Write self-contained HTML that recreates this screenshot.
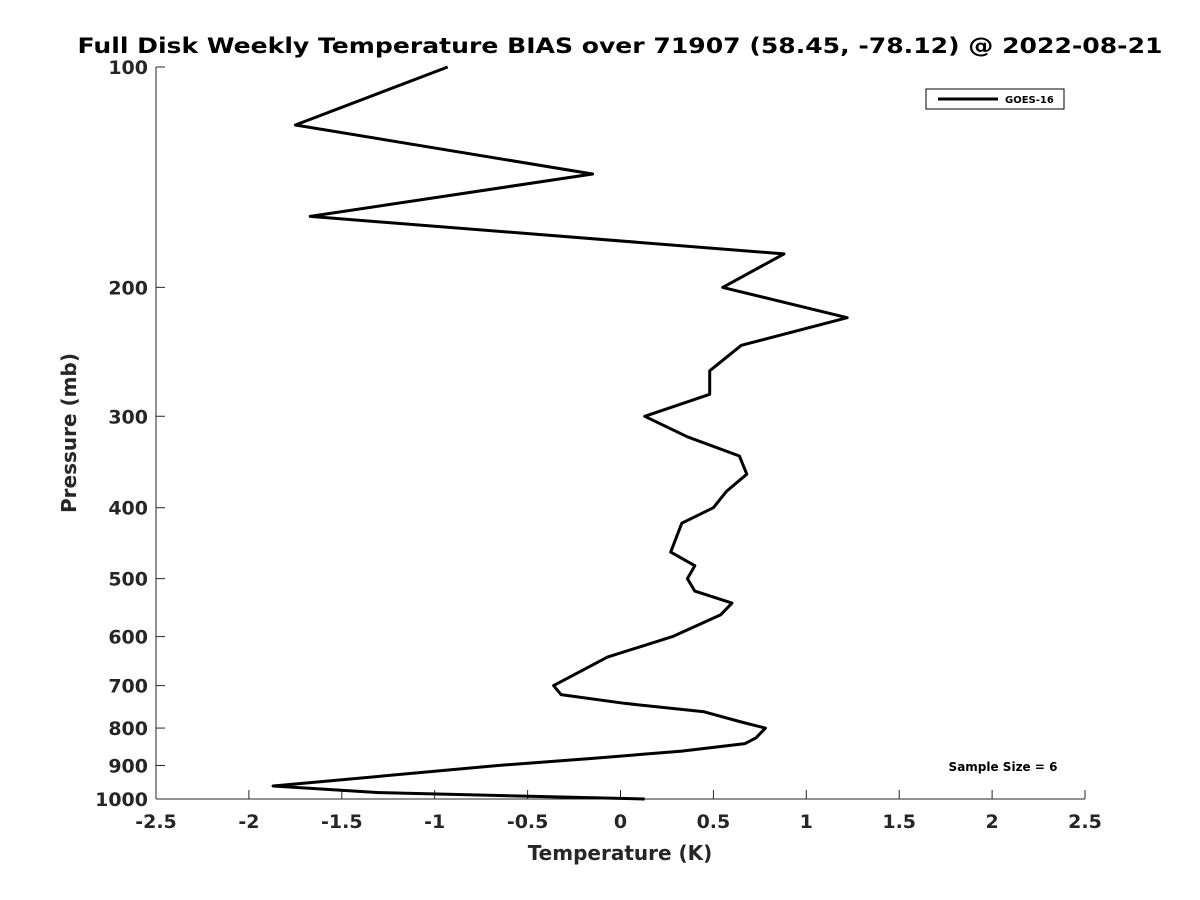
<!DOCTYPE html>
<html><head><meta charset="utf-8"><style>
body{margin:0;background:#fff;}
svg{display:block;font-family:"DejaVu Sans","Liberation Sans",sans-serif;}
</style></head><body>
<svg id="chart" width="1200" height="900" viewBox="0 0 1200 900">
<rect width="1200" height="900" fill="#fff"/>
<text x="620" y="53" text-anchor="middle" font-size="21" font-weight="bold" fill="#000" textLength="1085" lengthAdjust="spacingAndGlyphs">Full Disk Weekly Temperature BIAS over 71907 (58.45, -78.12) @ 2022-08-21</text>
<g id="axes"></g>
<text x="620" y="860" text-anchor="middle" font-size="20" font-weight="bold" fill="#262626">Temperature (K)</text>
<text transform="translate(76,433) rotate(-90)" text-anchor="middle" font-size="20" font-weight="bold" fill="#262626">Pressure (mb)</text>
<path id="line" fill="none" stroke="#000" stroke-width="3" stroke-linejoin="round"/>
<g>
<rect x="926" y="89" width="138" height="20" fill="#fff" stroke="#000" stroke-width="1"/>
<line x1="938" y1="99" x2="998" y2="99" stroke="#000" stroke-width="3"/>
<text x="1005" y="103" font-size="10" font-weight="bold">GOES-16</text>
</g>
<text x="1003" y="771" text-anchor="middle" font-size="12" font-weight="bold">Sample Size = 6</text>
</svg>
<script>
const temps=[-0.93,-1.75,-0.15,-1.67,0.88,0.55,1.22,0.65,0.48,0.48,0.13,0.36,0.64,0.68,0.57,0.5,0.33,0.27,0.4,0.36,0.4,0.6,0.54,0.28,-0.07,-0.36,-0.32,0.02,0.45,0.65,0.78,0.73,0.67,0.33,-0.15,-0.66,-1.87,-1.3,0.13];
const pressures=[100,120,140,160,180,200,220,240,260,280,300,320,340,360,380,400,420,460,480,500,520,540,560,600,640,700,720,740,760,785,800,825,840,860,880,900,960,980,1000];
const xTicks=[-2.5,-2,-1.5,-1,-0.5,0,0.5,1,1.5,2,2.5];
const yTicks=[100,200,300,400,500,600,700,800,900,1000];
const X0=156,X1=1085,Y0=67,Y1=799;
function xs(v){return X0+(v+2.5)/5*(X1-X0);}
function ys(p){return Y0+(Math.log10(p)-2)*(Y1-Y0);}
const NS="http://www.w3.org/2000/svg";
const ax=document.getElementById('axes');
function mk(tag,attrs){const e=document.createElementNS(NS,tag);for(const k in attrs)e.setAttribute(k,attrs[k]);ax.appendChild(e);return e;}
let e=mk('line',{x1:X0,y1:Y0,x2:X0,y2:Y1,stroke:'#262626','stroke-width':1});


e=mk('line',{x1:X0,y1:Y1,x2:X1,y2:Y1,stroke:'#262626','stroke-width':1});


xTicks.forEach(t=>{
 const x=xs(t);
 let l=mk('line',{x1:x,y1:Y1,x2:x,y2:Y1-9,stroke:'#262626'});
 
 
 let tx=mk('text',{x:x,y:Y1+29,'text-anchor':'middle','font-size':19,'font-weight':'bold',fill:'#262626'});
 tx.textContent=String(t);
 
 
});
yTicks.forEach(t=>{
 const y=ys(t);
 let l=mk('line',{x1:X0,y1:y,x2:X0+9,y2:y,stroke:'#262626'});
 
 
 let tx=mk('text',{x:X0-8,y:y+7,'text-anchor':'end','font-size':19,'font-weight':'bold',fill:'#262626'});
 tx.textContent=String(t);
 
 
});
document.getElementById('line').setAttribute('d',temps.map((t,i)=>(i?'L':'M')+xs(t).toFixed(1)+','+ys(pressures[i]).toFixed(1)).join(' '));
</script>
</body></html>
